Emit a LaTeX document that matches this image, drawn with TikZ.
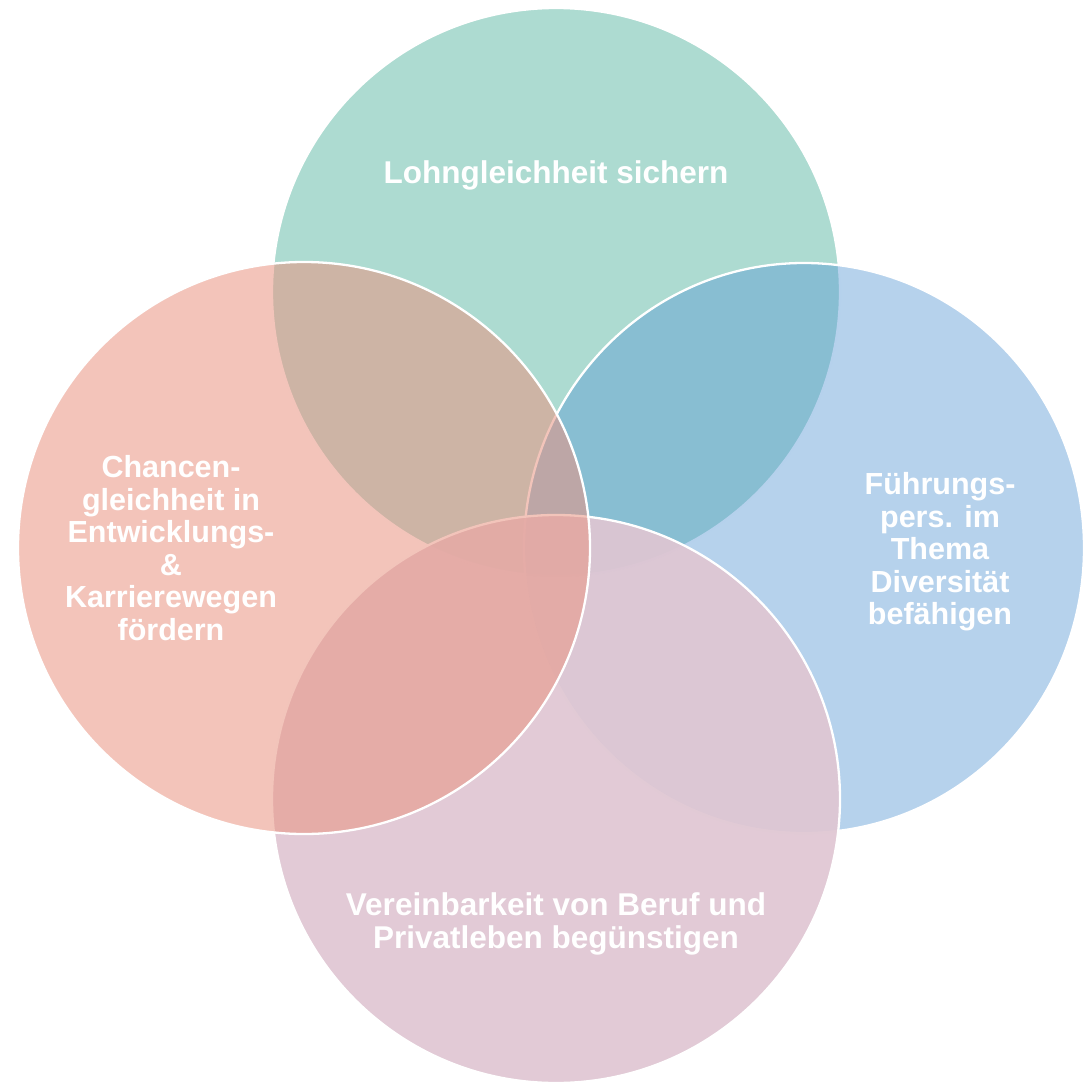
\documentclass[tikz,border=0pt]{standalone}
\usepackage{fontspec}
\setmainfont{Liberation Sans}
\definecolor{cTop}{RGB}{173,219,209}
\definecolor{cRight}{RGB}{93,155,213}
\definecolor{cBot}{RGB}{223,198,210}
\definecolor{cLeft}{RGB}{233,148,130}
\begin{document}
\begin{tikzpicture}[x=1pt,y=-1pt,
  venn/.style={draw=white, line width=2.3pt},
  lbl/.style={text=white, font=\fontsize{30.5}{32.5}\selectfont\bfseries, align=center, inner sep=0pt},
  lblw/.style={lbl, font=\fontsize{31.5}{33}\selectfont\bfseries}]
\useasboundingbox (0,0) rectangle (1082,1087);
% circles, in drawing order
\path[venn, fill=cTop] (556,292) circle [radius=284pt];
\path[venn, fill=cRight, fill opacity=0.45] (804,548) ellipse [x radius=280pt, y radius=285pt];
\path[venn, fill=cBot, fill opacity=0.92] (556,799) circle [radius=284pt];
\path[venn, fill=cLeft, fill opacity=0.55] (304,548) circle [radius=286pt];
% labels
\node[lblw] (ttop) at (556,175) {Lohngleichheit sichern};
\node[lbl] (tleft) at (171,548) {Chancen-\\gleichheit in\\Entwicklungs-\\\&\\Karrierewegen\\fördern};
\node[lbl] (tright) at (940,552) {Führungs-\\pers. im\\Thema\\Diversität\\befähigen};
\node[lblw] (tbot) at (556,924) {Vereinbarkeit von Beruf und\\Privatleben begünstigen};
\end{tikzpicture}
\end{document}
